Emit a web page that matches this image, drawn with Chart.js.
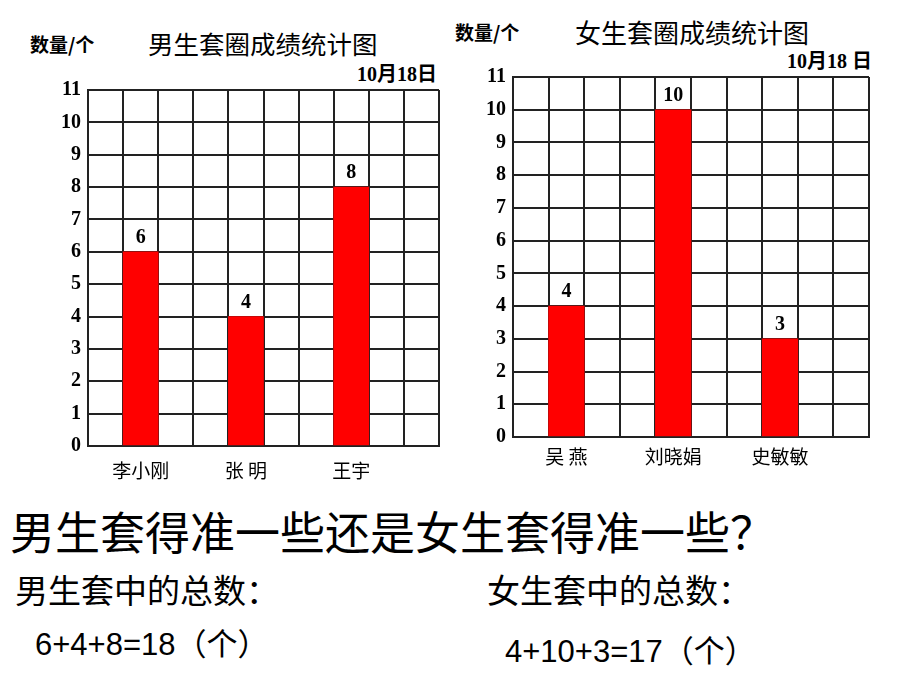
<!DOCTYPE html>
<html>
<head>
<meta charset="utf-8">
<script src="https://cdn.jsdelivr.net/npm/chart.js@4/dist/chart.umd.min.js"></script>
<style>
  body { margin: 0; background: #fff; }
  #page { position: relative; width: 920px; height: 690px; overflow: hidden; background: #fff; }
  .t { position: absolute; white-space: nowrap; line-height: 1; color: #000; font-family: "Noto Sans CJK SC", sans-serif; }
  .unit { font-size: 19px; font-weight: bold; }
  .title { font-size: 25.5px; }
  .date { font-size: 20px; font-weight: bold; font-family: "Liberation Serif", "Noto Sans CJK SC", serif; }
  .q { font-size: 45px; }
  .sub { font-size: 33px; }
  .sum { font-size: 31px; font-family: "Liberation Sans", "Noto Sans CJK SC", sans-serif; }
  canvas { position: absolute; }
</style>
</head>
<body>
<div id="page">
  <div class="t unit" style="left:30px; top:34px;">数量/个</div>
  <div class="t title" style="left:148px; top:30px;">男生套圈成绩统计图</div>
  <div class="t date" style="left:357px; top:64px;">10月18日</div>

  <div class="t unit" style="left:455px; top:22px;">数量/个</div>
  <div class="t title" style="left:575px; top:19px; font-size:26px;">女生套圈成绩统计图</div>
  <div class="t date" style="left:787px; top:51px;">10月18 日</div>

  <canvas id="boysChart" width="460" height="430" style="left:0; top:60px;"></canvas>
  <canvas id="girlsChart" width="460" height="440" style="left:460px; top:40px;"></canvas>

  <div class="t q" style="left:10px; top:508px;">男生套得准一些还是女生套得准一些？</div>
  <div class="t sub" style="left:15px; top:573px;">男生套中的总数：</div>
  <div class="t sub" style="left:487px; top:573px;">女生套中的总数：</div>
  <div class="t sum" style="left:35px; top:629px;">6+4+8=18（个）</div>
  <div class="t sum" style="left:505px; top:636px;">4+10+3=17（个）</div>
</div>

<script>
// 数据
const boysNames = ['李小刚', '张 明', '王宇'];
const boysCounts = [6, 4, 8];
const girlsNames = ['吴 燕', '刘晓娟', '史敏敏'];
const girlsCounts = [4, 10, 3];
const yMax = 11;

// 方格数和柱子所在的格子
const slotCount = 10;
const barSlots = [1, 4, 7];

const gridColor = '#222';

// 在柱子上方写数量
const valueLabels = {
    id: 'valueLabels',
    afterDatasetsDraw(chart) {
        const ctx = chart.ctx;
        ctx.save();
        ctx.font = 'bold 20px "Liberation Serif", serif';
        ctx.fillStyle = '#000';
        ctx.textAlign = 'center';
        ctx.textBaseline = 'middle';
        chart.getDatasetMeta(0).data.forEach((bar, i) => {
            const v = chart.data.datasets[0].data[i];
            if (v == null) return;
            ctx.fillText(String(v), bar.x, bar.y - 14);
        });
        ctx.restore();
    }
};

function makeChart(id, names, counts, box) {
    const labels = new Array(slotCount).fill('');
    const values = new Array(slotCount).fill(null);
    names.forEach((n, i) => {
        labels[barSlots[i]] = n;
        values[barSlots[i]] = counts[i];
    });

    return new Chart(document.getElementById(id).getContext('2d'), {
        type: 'bar',
        data: {
            labels: labels,
            datasets: [{
                data: values,
                backgroundColor: '#ff0000',
                borderWidth: 0,
                barPercentage: 1,
                categoryPercentage: 1
            }]
        },
        options: {
            responsive: false,
            animation: false,
            layout: { padding: { left: 0, right: box.right, top: box.top, bottom: 0 } },
            plugins: { legend: { display: false }, tooltip: { enabled: false } },
            scales: {
                x: {
                    grid: { color: gridColor, lineWidth: 2, drawTicks: false, offset: true },
                    border: { color: gridColor, width: 2 },
                    ticks: {
                        color: '#000',
                        autoSkip: false,
                        maxRotation: 0,
                        padding: box.labelPad,
                        font: { family: '"Noto Sans CJK SC", sans-serif', size: 19 }
                    },
                    afterFit(s) { s.height = box.xHeight; }
                },
                y: {
                    min: 0,
                    max: yMax,
                    grid: { color: gridColor, lineWidth: 2, drawTicks: false },
                    border: { color: gridColor, width: 2 },
                    ticks: {
                        stepSize: 1,
                        color: '#000',
                        padding: 7,
                        font: { family: '"Liberation Serif", serif', size: 20, weight: 'bold' }
                    },
                    afterFit(s) { s.width = box.yWidth; }
                }
            }
        },
        plugins: [valueLabels]
    });
}

makeChart('boysChart', boysNames, boysCounts, { yWidth: 88, right: 21, top: 30, xHeight: 44, labelPad: 13 });
makeChart('girlsChart', girlsNames, girlsCounts, { yWidth: 53, right: 51, top: 37, xHeight: 43, labelPad: 8 });
</script>
</body>
</html>
